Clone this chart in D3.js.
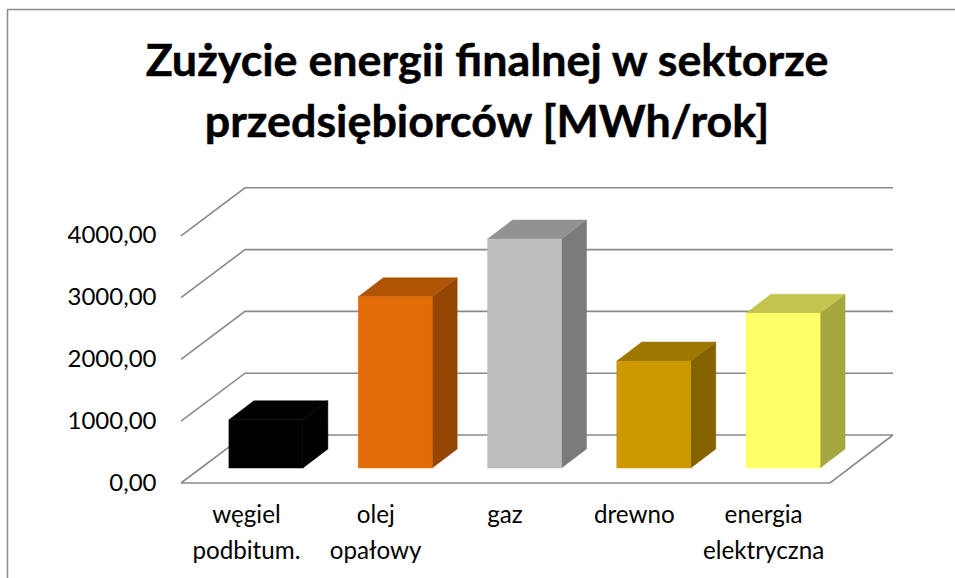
<!DOCTYPE html>
<html lang="pl">
<head>
<meta charset="utf-8">
<style>
html,body{margin:0;padding:0;background:#fff;}
svg{display:block;}
text{font-family:Lato,"Open Sans",sans-serif;fill:#000;}
</style>
<script src="https://cdn.jsdelivr.net/npm/d3@7"></script>
</head>
<body>
<svg id="chart" width="955" height="578"></svg>
<script>
const titleLines = ["Zużycie energii finalnej w sektorze", "przedsiębiorców [MWh/rok]"];
const categories = ["węgiel podbitum.", "olej opałowy", "gaz", "drewno", "energia elektryczna"];
const categoryLines = [["węgiel", "podbitum."], ["olej", "opałowy"], ["gaz"], ["drewno"], ["energia", "elektryczna"]];
const values = [780, 2770, 3705, 1730, 2505];
const yTicks = [0, 1000, 2000, 3000, 4000];
const frontColors = ["#000000", "#e36c09", "#bebebe", "#cc9900", "#ffff66"];
const topColors = ["#000000", "#b05406", "#929292", "#9e7700", "#c4c44f"];
const sideColors = ["#000000", "#954602", "#7b7b7b", "#856300", "#a6a640"];

const W = 955, H = 578;
const svg = d3.select("#chart");
const GRID = "#8a8a8a";

// Chart frame (cropped by the image on the right and at the bottom)
svg.append("path").attr("d", `M${W},9.5H7.5V${H}`)
  .attr("fill", "none").attr("stroke", "#8c8c8c").attr("stroke-width", 1.5);

// Title
svg.append("g").selectAll("text").data(titleLines).join("text")
  .attr("x", 487).attr("y", (d, i) => 76 + i * 61)
  .attr("text-anchor", "middle")
  .attr("font-size", 44.8).attr("font-weight", 700)
  .attr("stroke", "#000").attr("stroke-width", 0.5)
  .text(d => d);

// Scales
const floorDepth = { x: 64, y: -48 };
const barDepth = { x: 25, y: -19 };
const barInset = { x: 20, y: -15 };
const floorLeft = 181, floorRight = 830;
const y = d3.scaleLinear().domain([0, 4000]).range([483, 235.8]);
const x = d3.scaleBand().domain(categories).range([181, 828]).paddingInner(0.428).paddingOuter(0.216);

// Walls and gridlines
const gridG = svg.append("g").attr("fill", "none").attr("stroke", GRID).attr("stroke-width", 1.6);
gridG.selectAll("path.grid").data(yTicks).join("path").attr("class", "grid")
  .attr("d", v => d3.line()([
    [floorLeft, y(v)],
    [floorLeft + floorDepth.x, y(v) + floorDepth.y],
    [floorRight + floorDepth.x - 1, y(v) + floorDepth.y]
  ]));
gridG.append("path").attr("d", d3.line()([
  [floorLeft, y(0)],
  [floorRight, y(0)],
  [floorRight + floorDepth.x - 1, y(0) + floorDepth.y]
]));

// Bars
const bars = svg.append("g").selectAll("g").data(categories).join("g");
const base = y(0) + barInset.y;
const left = c => x(c) + barInset.x;
const right = c => left(c) + x.bandwidth();
const topY = i => base - (y(0) - y(values[i]));
const poly = pts => d3.line()(pts) + "Z";

bars.append("path").attr("fill", (c, i) => sideColors[i]).attr("stroke", (c, i) => sideColors[i]).attr("stroke-width", 0.5)
  .attr("d", (c, i) => poly([
    [right(c), base], [right(c), topY(i)],
    [right(c) + barDepth.x, topY(i) + barDepth.y],
    [right(c) + barDepth.x, base + barDepth.y]
  ]));
bars.append("path").attr("fill", (c, i) => topColors[i]).attr("stroke", (c, i) => topColors[i]).attr("stroke-width", 0.5)
  .attr("d", (c, i) => poly([
    [left(c), topY(i)], [right(c), topY(i)],
    [right(c) + barDepth.x, topY(i) + barDepth.y],
    [left(c) + barDepth.x, topY(i) + barDepth.y]
  ]));
bars.append("rect").attr("fill", (c, i) => frontColors[i]).attr("stroke", (c, i) => frontColors[i]).attr("stroke-width", 0.5)
  .attr("x", c => left(c)).attr("width", x.bandwidth())
  .attr("y", (c, i) => topY(i)).attr("height", (c, i) => base - topY(i));

// Value axis
const pl = d3.formatLocale({ decimal: ",", thousands: "", grouping: [3], currency: ["", ""] });
const yAxis = d3.axisLeft(y).tickValues(yTicks).tickSize(0).tickPadding(0).tickFormat(pl.format(".2f"));
const yG = svg.append("g").attr("transform", "translate(156.5,-1)").call(yAxis);
yG.select(".domain").remove();
yG.selectAll("text").attr("font-size", 24).attr("fill", "#000")
  .style("font-family", 'Lato,"Open Sans",sans-serif').attr("dy", "0.34em");

// Category axis
const xAxis = d3.axisBottom(x).tickSize(0).tickFormat("");
const xG = svg.append("g").attr("transform", `translate(0.5,${y(0)})`).call(xAxis);
xG.select(".domain").remove();
xG.selectAll(".tick").each(function (c, i) {
  d3.select(this).select("text").remove();
  d3.select(this).selectAll("text.lab").data(categoryLines[i]).join("text")
    .attr("class", "lab").attr("text-anchor", "middle")
    .attr("y", (d, k) => 40 + k * 35.5)
    .attr("font-size", 24.2).text(d => d);
});
</script>
</body>
</html>
